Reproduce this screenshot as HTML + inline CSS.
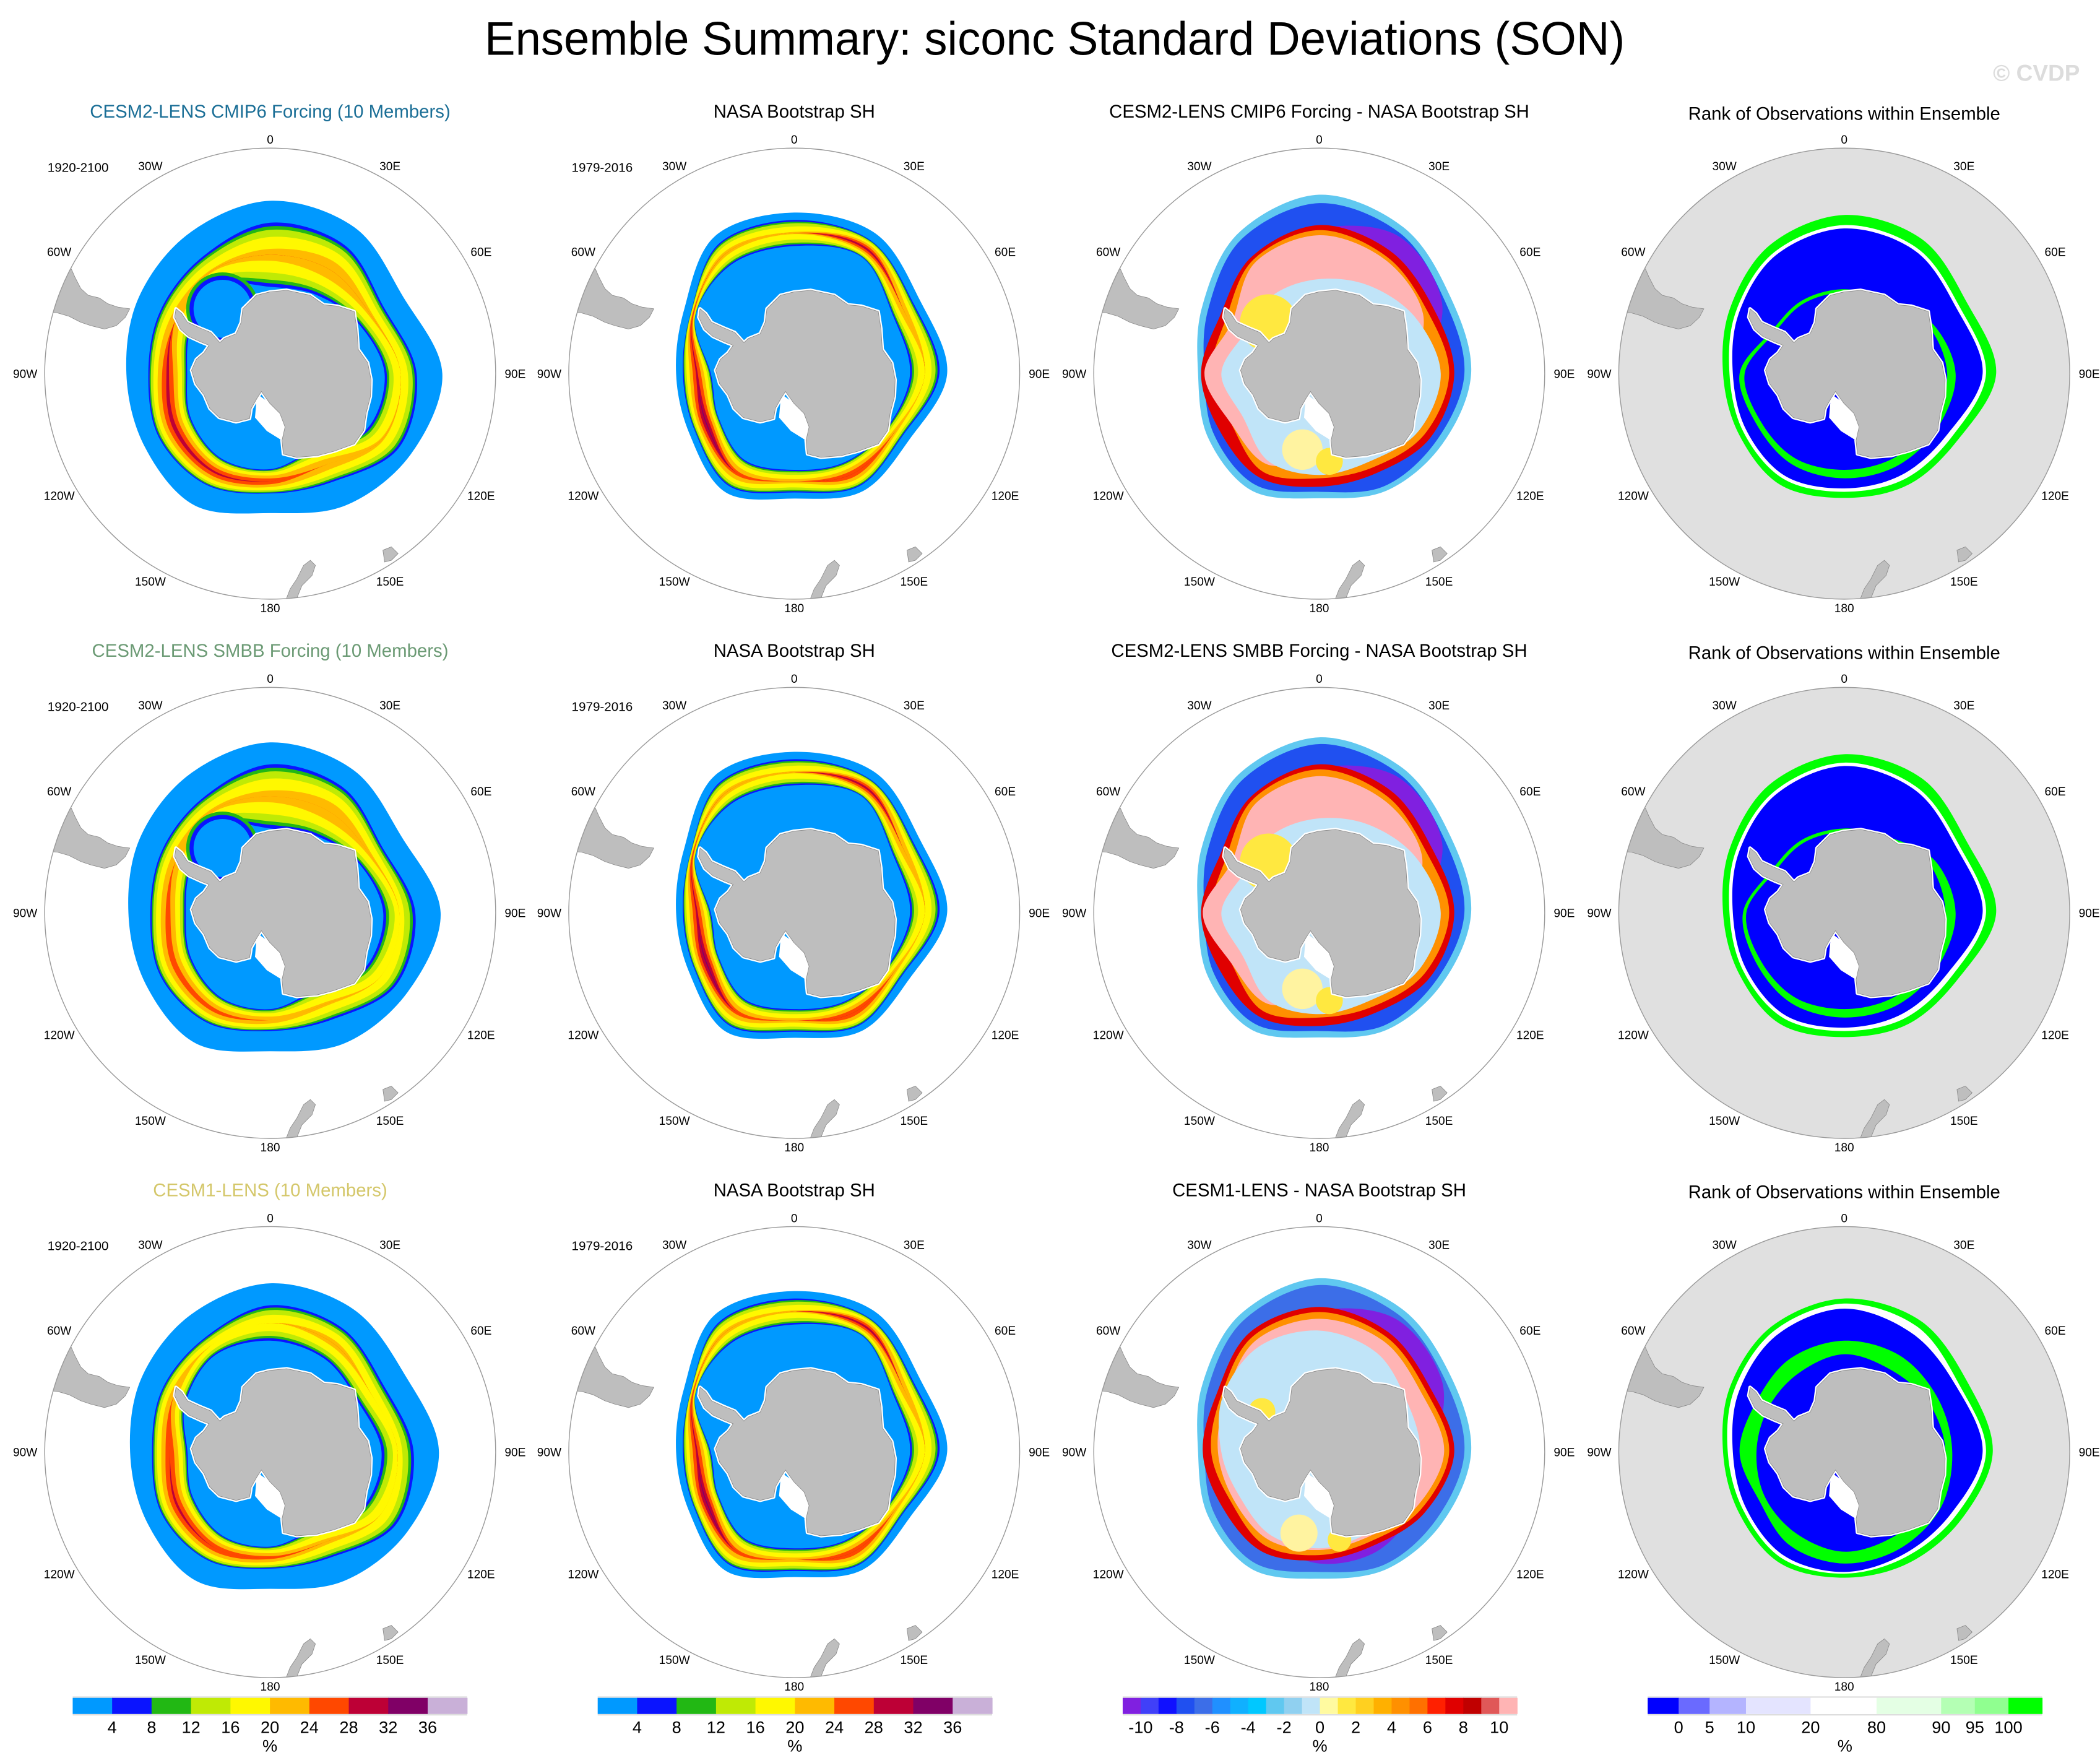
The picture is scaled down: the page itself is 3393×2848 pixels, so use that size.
<!DOCTYPE html>
<html><head><meta charset="utf-8"><title>Ensemble Summary: siconc Standard Deviations (SON)</title>
<style>html,body{margin:0;padding:0;background:#fff}svg{display:block}text{font-family:"Liberation Sans",sans-serif}</style>
</head><body>
<svg id="fig" xmlns="http://www.w3.org/2000/svg" width="3393" height="2848" viewBox="0 0 1560 1309.4" preserveAspectRatio="none">
<rect x="0" y="0" width="1560" height="1309.4" fill="#fff"/>
<text x="783.5" y="40.6" font-size="35" text-anchor="middle" textLength="847" lengthAdjust="spacingAndGlyphs" fill="#000">Ensemble Summary: siconc Standard Deviations (SON)</text>
<text x="1545" y="60" font-size="17" font-weight="bold" text-anchor="end" fill="#dcdcdc">© CVDP</text>
<g id="panels"></g>
<g id="cbars"></g>
</svg>
<script>
// ---------- data ----------
const bearings = [0,30,60,90,120,150,180,210,240,270,300,330];
const lonLabels = ["0","30E","60E","90E","120E","150E","180","150W","120W","90W","60W","30W"];
const stdColors = ["#0099ff","#0a14ff","#22b814","#bfea05","#fff800","#ffba00","#ff4800","#bd0036","#800066","#c9b0d8"];
const stdTicks = [4,8,12,16,20,24,28,32,36];
const diffColors = ["#8020e0","#4040f8","#1010ff","#2050f0","#3c6ee8","#2090ff","#10b0ff","#00c8ff","#60c8f0","#90d0f0","#c0e4f8","#fffaa0","#ffe840","#ffd020","#ffb000","#ff9000","#ff7000","#ff2000","#e00000","#c00000","#e05858","#ffb4b4"];
const diffTicks = [-10,-8,-6,-4,-2,0,2,4,6,8,10];
const rankColors = ["#0000ff","#6a6aff","#b4b4ff","#e4e4ff","#ffffff","#e4ffe4","#b4ffb4","#90ff90","#00ff00"];
const rankTicks = [0,5,10,20,80,90,95,100];
const levelWeights = [0.3,0.3,0.6,1,1,1,1,1,1];

// model std rows (outer extent, ring outer edge, ring inner edge, peak level)
const a1Outer = [512,500,455,510,480,450,413,450,430,426,450,480];
const a1Edge  = [447,440,390,434,440,370,355,380,380,361,375,400];
const a1Inner = [257,270,300,339,330,260,283,290,270,246,270,300];
const a1Peak  = [4.5,5,4.3,4,4.2,5,6,6.3,6.5,6.3,5,4.2];
const a2Outer = [505,490,450,505,470,445,410,445,425,420,445,475];
const a2Edge  = [440,430,385,430,430,365,350,375,375,355,370,395];
const a2Inner = [250,265,300,335,325,265,285,290,270,250,270,300];
const a2Peak  = [4.5,5,4.3,3.5,4,4.3,5,5.5,5.6,5.5,5,4.3];
const a3Outer = [500,490,460,500,470,440,405,440,420,415,440,470];
const a3Edge  = [435,425,390,425,430,360,345,370,370,350,370,390];
const a3Inner = [330,320,300,330,320,262,280,285,265,245,290,330];
const a3Peak  = [4,4.5,4,3.5,4,4.5,5.5,6,6.3,6,5,4];
// observed std
const bOuter = [477,480,431,453,393,403,370,406,358,350,377,470];
const bEdge  = [455,455,410,430,370,385,352,385,340,330,355,445];
const bInner = [378,399,339,343,318,302,285,295,259,247,338,373];
const bPeak  = [4.2,6.5,5,4,4.6,6,4.5,5.5,7.2,6.3,6,4.5];
// difference panels: layer radii (painter order) + colours
const c1Colors = ["#60c8f0","#2050f0","#8020e0","#e00000","#ff9000","#ffb4b4","#c0e4f8"];
const c1Radii = [
 [530,500,450,450,420,400,369,400,380,359,400,480],
 [505,480,430,430,400,385,350,380,360,340,380,460],
 [430,470,420,300,250,250,250,300,300,260,280,380],
 [440,420,390,400,380,340,335,355,340,350,340,400],
 [425,400,370,385,360,320,310,335,300,320,320,390],
 [410,390,355,270,280,250,250,310,300,340,300,380],
 [280,300,330,360,340,300,300,300,260,290,250,270]];
const c2Radii = [
 [520,495,450,450,420,400,369,400,380,359,400,475],
 [500,475,430,430,400,385,350,380,360,340,380,455],
 [430,465,420,300,250,250,250,300,300,260,280,380],
 [440,420,385,400,380,340,335,355,340,350,340,400],
 [425,400,365,385,360,320,310,335,300,320,320,390],
 [405,385,350,270,280,250,250,310,300,345,300,375],
 [280,300,330,360,340,300,300,300,260,290,250,270]];
const c3Colors = ["#60c8f0","#3c6ee8","#8020e0","#e00000","#ff9000","#ffb4b4","#c0e4f8"];
const c3Radii = [
 [515,490,450,450,420,400,375,400,380,359,400,470],
 [495,470,430,430,400,385,355,380,360,340,380,450],
 [420,455,420,340,330,340,330,300,300,270,300,380],
 [430,410,380,400,360,320,320,340,330,345,350,410],
 [415,395,365,385,345,305,305,320,300,320,335,395],
 [395,380,350,370,330,290,290,300,290,300,320,380],
 [360,340,300,300,300,280,285,285,270,290,330,360]];
const cPatchColors = ["#ffe840","#fff3a0","#ffe840"];
const c1PatchX = [-150,-50,30];
const c1PatchY = [-150,225,260];
const c1PatchR = [85,60,40];
const c3PatchX = [-170,-60,60];
const c3PatchY = [-120,240,260];
const c3PatchR = [40,55,35];
// rank panels
const dColors = ["#00ff00","#ffffff","#0000ff","#00ff00","#0000ff"];
const d1Radii = [
 [470,460,420,450,390,380,368,380,360,359,390,440],
 [440,430,395,420,370,360,350,360,345,340,370,415],
 [430,420,385,410,355,345,340,350,335,330,360,405],
 [250,250,300,330,320,315,310,310,300,310,250,250],
 [240,240,285,305,300,290,285,290,285,295,240,240]];
const d2Radii = [
 [470,460,420,450,390,380,368,380,360,359,390,440],
 [445,430,395,420,370,360,350,360,345,340,370,415],
 [435,420,385,410,355,345,340,350,335,330,360,405],
 [250,260,310,330,320,315,310,310,300,300,250,250],
 [240,250,290,300,300,290,285,290,285,290,240,240]];
const d3Radii = [
 [455,450,420,440,400,380,372,380,360,359,390,430],
 [440,430,395,420,380,360,360,365,345,345,375,415],
 [425,405,385,410,365,350,355,355,335,330,360,400],
 [330,330,320,320,330,330,330,320,290,310,300,320],
 [290,280,290,300,300,290,295,280,270,260,260,270]];

// ---------- geometry ----------
const panelCX = [200.7,590,980,1370];
const panelCY = [277.5,678,1078.5];
const SCALE = 167.5/668;
const NS = "http://www.w3.org/2000/svg";
const antarctica = [[-81,-192],[-41,-232],[-1,-242],[49,-247],[119,-232],[159,-204],[199,-200],[249,-184],[257,-132],[261,-72],[289,-32],[299,18],[297,68],[284,118],[277,168],[249,208],[189,230],[139,243],[79,248],[39,238],[35,198],[44,158],[29,118],[-1,88],[-26,53],[-39,73],[-56,103],[-61,133],[-101,143],[-151,130],[-179,103],[-196,63],[-221,30],[-233,-10],[-219,-42],[-196,-62],[-181,-84],[-206,-94],[-241,-110],[-266,-132],[-283,-167],[-279,-192],[-262,-178],[-245,-152],[-210,-136],[-176,-122],[-149,-92],[-136,-104],[-101,-118],[-86,-152]];
const rossShelf = [[-39,60],[0,88],[29,118],[44,158],[35,198],[-10,170],[-45,130]];
const southAmerica = [[-640,-360],[-589,-310],[-579,-287],[-561,-252],[-539,-232],[-506,-224],[-481,-207],[-451,-197],[-416,-192],[-429,-167],[-456,-142],[-491,-132],[-531,-142],[-561,-152],[-596,-170],[-631,-180],[-690,-184],[-700,-360]];
const newZealand = [[39,690],[59,638],[79,608],[99,568],[119,553],[134,568],[124,598],[94,628],[69,690]];
const tasmania = [[334,523],[359,513],[379,533],[359,553],[339,558]];

function el(tag, attrs, parent){ const e=document.createElementNS(NS,tag); for(const k in attrs) e.setAttribute(k,attrs[k]); if(parent) parent.appendChild(e); return e; }
function polyPath(pts){ return "M"+pts.map(p=>p[0]+","+p[1]).join("L")+"Z"; }
function smoothPath(r){
  const n=r.length, pts=r.map((v,i)=>{const a=bearings[i]*Math.PI/180; return [v*Math.sin(a), -v*Math.cos(a)];});
  let d="M"+pts[0][0].toFixed(1)+","+pts[0][1].toFixed(1);
  for(let i=0;i<n;i++){
    const p0=pts[(i-1+n)%n],p1=pts[i],p2=pts[(i+1)%n],p3=pts[(i+2)%n];
    const c1=[p1[0]+(p2[0]-p0[0])/6,p1[1]+(p2[1]-p0[1])/6], c2=[p2[0]-(p3[0]-p1[0])/6,p2[1]-(p3[1]-p1[1])/6];
    d+="C"+c1.map(v=>v.toFixed(1)).join(",")+" "+c2.map(v=>v.toFixed(1)).join(",")+" "+p2.map(v=>v.toFixed(1)).join(",");
  }
  return d+"Z";
}
function cum(x){ let s=0; const f=Math.floor(x); for(let j=0;j<f&&j<levelWeights.length;j++) s+=levelWeights[j]; if(f<levelWeights.length) s+=(x-f)*levelWeights[f]; return s; }
function ringLayers(outer, edge, inner, peak){
  const layers=[{c:stdColors[0], r:outer}];
  const maxL=Math.ceil(Math.max(...peak));
  const half=edge.map((e,i)=>(e-inner[i])/2);
  for(let k=1;k<=maxL;k++) layers.push({c:stdColors[k], r:edge.map((e,i)=>e-half[i]*cum(Math.min(k-1,peak[i]))/cum(peak[i]))});
  for(let k=maxL;k>=1;k--) layers.push({c:stdColors[k-1], r:inner.map((v,i)=>v+half[i]*cum(Math.min(k-1,peak[i]))/cum(peak[i]))});
  return layers;
}

const panelsG=document.getElementById("panels");
let clipId=0;
function drawPanel(row,col,opts){
  const cx=panelCX[col], cy=panelCY[row];
  const g=el("g",{},panelsG);
  
  
  const tt=el("text",{x:cx, y:(col===3?88.9:87.4)+row*400.5, "font-size":13.5, "text-anchor":"middle", fill:opts.titleColor||"#000"},g);
  tt.textContent=opts.title;
  
  
  if(opts.years){ const y=el("text",{x:cx-142.7, y:cy-150, "font-size":9.5, "text-anchor":"middle", fill:"#000"},g); y.textContent=opts.years;
    
     }
  lonLabels.forEach((lab,i)=>{
    const a=bearings[i]*Math.PI/180, s=Math.abs(Math.sin(a)); const rr=174+8*s;
    const t=el("text",{x:(cx+rr*Math.sin(a)).toFixed(1), y:(cy-rr*Math.cos(a)+3.2).toFixed(1), "font-size":8.8, "text-anchor":"middle", fill:"#000"},g);
    t.textContent=lab;
    
    
  });
  const m=el("g",{transform:`translate(${cx},${cy}) scale(${SCALE})`},g);
  
  
  const id="clip"+(clipId++);
  const cp=el("clipPath",{id},m); el("circle",{cx:0,cy:0,r:668},cp);
  const body=el("g",{"clip-path":`url(#${id})`},m);
  if(opts.disc){ const d=el("circle",{cx:0,cy:0,r:668,fill:opts.disc},body);   }
  (opts.layers||[]).forEach(L=>{ const p=el("path",{d:smoothPath(L.r),fill:L.c},body);
    
     });
  (opts.patches||[]).forEach(P=>{ const c=el("circle",{cx:P.x,cy:P.y,r:P.r,fill:P.c},body);
    
     });
  const coast=el("path",{d:polyPath(antarctica),fill:"#fff",stroke:"#fff","stroke-width":10,"stroke-linejoin":"round"},body);
  
  
  el("path",{d:polyPath(rossShelf),fill:"#fff"},body);
  const ant=el("path",{d:polyPath(antarctica),fill:"#bebebe",stroke:"#888","stroke-width":1.5},body);
  
  
  [southAmerica,newZealand,tasmania].forEach(pl=>{ const p=el("path",{d:polyPath(pl),fill:"#bebebe",stroke:"#888","stroke-width":1.5},body);
    
     });
  const ring=el("circle",{cx:0,cy:0,r:668,fill:"none",stroke:"#999","stroke-width":2.6},m);
  
  
}
function toLayers(radii,colors){ return radii.map((r,i)=>({c:colors[i],r})); }
function toPatches(xs,ys,rs){ return xs.map((x,i)=>({x,y:ys[i],r:rs[i],c:cPatchColors[i]})); }
const weddell=[{x:-141,y:-192,r:108,c:stdColors[2]},{x:-141,y:-192,r:98,c:stdColors[1]},{x:-141,y:-192,r:86,c:stdColors[0]}];
const obsPatches=[];

const modelTitles=["CESM2-LENS CMIP6 Forcing (10 Members)","CESM2-LENS SMBB Forcing (10 Members)","CESM1-LENS (10 Members)"];
const modelTitleColors=["#1a6e96","#6b9a74","#d4c76a"];
const diffTitles=["CESM2-LENS CMIP6 Forcing - NASA Bootstrap SH","CESM2-LENS SMBB Forcing - NASA Bootstrap SH","CESM1-LENS - NASA Bootstrap SH"];
const modelRing=[[a1Outer,a1Edge,a1Inner,a1Peak],[a2Outer,a2Edge,a2Inner,a2Peak],[a3Outer,a3Edge,a3Inner,a3Peak]];
const diffLayers=[toLayers(c1Radii,c1Colors),toLayers(c2Radii,c1Colors),toLayers(c3Radii,c3Colors)];
const diffPatches=[toPatches(c1PatchX,c1PatchY,c1PatchR),toPatches(c1PatchX,c1PatchY,c1PatchR),toPatches(c3PatchX,c3PatchY,c3PatchR)];
const rankLayers=[toLayers(d1Radii,dColors),toLayers(d2Radii,dColors),toLayers(d3Radii,dColors)];
for(let row=0;row<3;row++){
  const mr=modelRing[row];
  drawPanel(row,0,{title:modelTitles[row],titleColor:modelTitleColors[row],years:"1920-2100",layers:ringLayers(...mr),patches:row<2?weddell:[]});
  drawPanel(row,1,{title:"NASA Bootstrap SH",years:"1979-2016",layers:ringLayers(bOuter,bEdge,bInner,bPeak),patches:obsPatches});
  drawPanel(row,2,{title:diffTitles[row],layers:diffLayers[row],patches:diffPatches[row]});
  drawPanel(row,3,{title:"Rank of Observations within Ensemble",disc:"#e0e0e0",layers:rankLayers[row]});
}

// ---------- colorbars ----------
const cbG=document.getElementById("cbars");
const CB_Y=1261, CB_H=12;
function colorbar(x0,w,colors,bounds,ticks,tickIdx,name){
  const g=el("g",{},cbG);
  
  
  colors.forEach((c,i)=>{ const r=el("rect",{x:x0+bounds[i]*w,y:CB_Y,width:(bounds[i+1]-bounds[i])*w+0.3,height:CB_H,fill:c},g);
    
     });
  el("line",{x1:x0,x2:x0+w,y1:CB_Y-0.6,y2:CB_Y-0.6,stroke:"#ddd","stroke-width":1},g);
  el("line",{x1:x0,x2:x0+w,y1:CB_Y+CB_H+0.6,y2:CB_Y+CB_H+0.6,stroke:"#ddd","stroke-width":1},g);
  ticks.forEach((t,i)=>{ const tx=el("text",{x:x0+bounds[tickIdx[i]]*w,y:1287,"font-size":12.5,"text-anchor":"middle",fill:"#000"},g); tx.textContent=t;
    
     });
  const u=el("text",{x:x0+w/2,y:1301,"font-size":12.5,"text-anchor":"middle",fill:"#000"},g); u.textContent="%";
  
  
}
const uni=n=>Array.from({length:n+1},(_,i)=>i/n);
const stdIdx=stdTicks.map((_,i)=>i+1);
colorbar(54,293,stdColors,uni(10),stdTicks,stdIdx,"std-colorbar-col1");
colorbar(444,293,stdColors,uni(10),stdTicks,stdIdx,"std-colorbar-col2");
colorbar(834,293,diffColors,uni(22),diffTicks,diffTicks.map((_,i)=>2*i+1),"difference-colorbar");
const rankBounds=[0,23,46,73,121,170,218,243,268,293].map(v=>v/293);
colorbar(1224,293,rankColors,rankBounds,rankTicks,rankTicks.map((_,i)=>i+1),"rank-colorbar");
</script>
</body></html>
